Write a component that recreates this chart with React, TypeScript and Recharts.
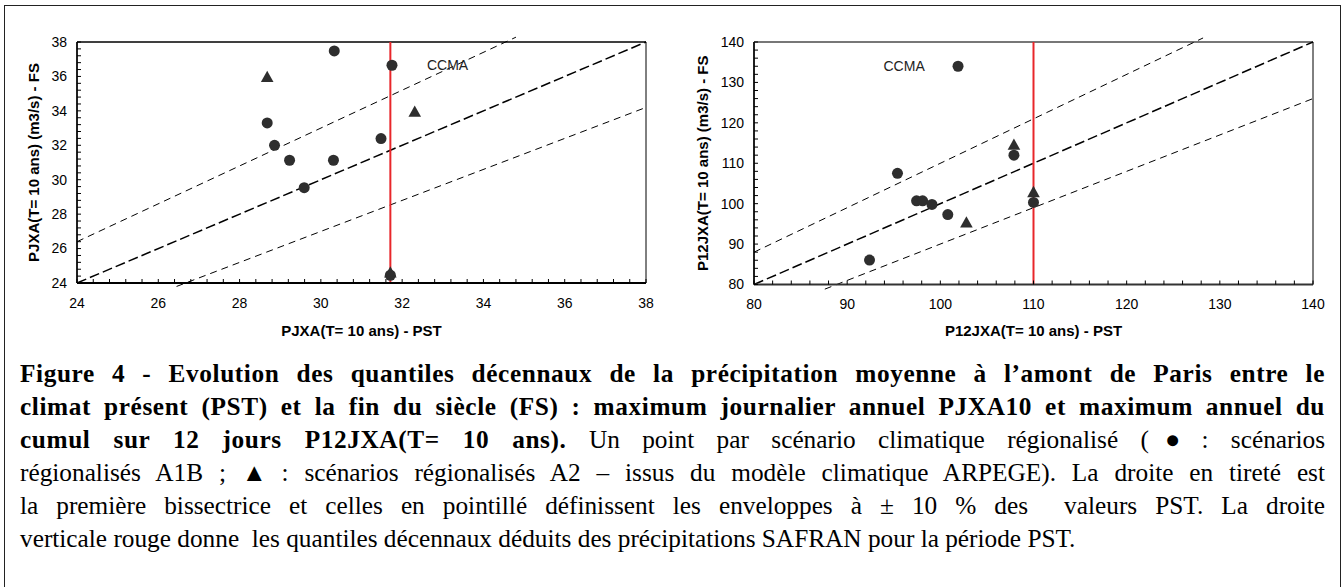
import React from 'react';
import {
  ScatterChart,
  Scatter,
  XAxis,
  YAxis,
  ReferenceLine,
  ReferenceArea,
  ReferenceDot,
  Label,
} from 'recharts';

// ---------- Left chart: PJXA (T = 10 ans) ----------
const leftA1BX = [30.33, 31.75, 28.68, 28.86, 31.48, 29.23, 30.31, 29.59, 31.71];
const leftA1BY = [37.48, 36.65, 33.3, 32.0, 32.39, 31.13, 31.13, 29.54, 24.45];
const leftA2X = [28.68, 32.31, 31.71];
const leftA2Y = [35.95, 33.94, 24.6];
const leftSafranPST = 31.71;
const leftDomain = [24, 38];
const leftMajorTicks = [24, 26, 28, 30, 32, 34, 36, 38];
const leftMinorStep = 0.4;
const leftBisector = [[24, 24], [38, 38]];
const leftUpper = [[24, 26.4], [34.8, 38.28]];
const leftLower = [[26.45, 23.8], [38, 34.2]];
const leftCcma = [32.61, 36.67];

// ---------- Right chart: P12JXA (T = 10 ans) ----------
const rightA1BX = [101.9, 95.4, 107.9, 97.45, 98.1, 99.1, 100.8, 110.0, 92.4];
const rightA1BY = [134.0, 107.5, 112.0, 100.7, 100.7, 99.8, 97.3, 100.3, 86.05];
const rightA2X = [107.9, 102.8, 110.0];
const rightA2Y = [114.5, 95.3, 102.8];
const rightSafranPST = 110.0;
const rightDomain = [80, 140];
const rightMajorTicks = [80, 90, 100, 110, 120, 130, 140];
const rightMinorStep = 2;
const rightBisector = [[80, 80], [140, 140]];
const rightUpper = [[80, 88], [128.2, 141.0]];
const rightLower = [[87.6, 78.85], [140, 126]];
const rightCcma = [93.9, 134];

const leftXLabel = 'PJXA(T= 10 ans) - PST';
const leftYLabel = 'PJXA(T= 10 ans) (m3/s) - FS';
const rightXLabel = 'P12JXA(T= 10 ans) - PST';
const rightYLabel = 'P12JXA(T= 10 ans) (m3/s) - FS';

const SANS = '"Liberation Sans", Arial, sans-serif';
const SERIF = '"Liberation Serif", "Times New Roman", serif';
const MARK = '#2e2e2e';
const RED = '#e8262a';

function minorTicks(domain: number[], step: number): number[] {
  const n = Math.round((domain[1] - domain[0]) / step);
  const out: number[] = [];
  for (let i = 0; i <= n; i++) out.push(Math.round((domain[0] + i * step) * 1000) / 1000);
  return out;
}

function toPoints(xs: number[], ys: number[]) {
  return xs.map((x, i) => ({ x, y: ys[i] }));
}

function seg(s: number[][]) {
  return [
    { x: s[0][0], y: s[0][1] },
    { x: s[1][0], y: s[1][1] },
  ] as any;
}

const isMajor = (v: number, majors: number[]) => majors.some((m) => Math.abs(m - v) < 1e-6);

function XTick(props: any) {
  const { x, y, payload, majors } = props;
  const v = payload.value;
  return (
    <g>
      <line x1={x} x2={x} y1={y} y2={y - 4} stroke="#000" strokeWidth={1} />
      {isMajor(v, majors) && (
        <text x={x} y={y + 20} dy="0.35em" textAnchor="middle" fontSize={14} fontFamily={SANS} fill="#000">
          {v}
        </text>
      )}
    </g>
  );
}

function YTick(props: any) {
  const { x, y, payload, majors } = props;
  const v = payload.value;
  return (
    <g>
      <line x1={x} x2={x + 4} y1={y} y2={y} stroke="#000" strokeWidth={1} />
      {isMajor(v, majors) && (
        <text x={x - 10} y={y} dy="0.35em" textAnchor="end" fontSize={14} fontFamily={SANS} fill="#000">
          {v}
        </text>
      )}
    </g>
  );
}

const Circle = (p: any) => <circle cx={p.cx} cy={p.cy} r={5.5} fill={MARK} />;
const Triangle = (p: any) => (
  <path
    d={`M${p.cx},${p.cy - 6.5}L${p.cx + 6.3},${p.cy + 4.8}L${p.cx - 6.3},${p.cy + 4.8}Z`}
    fill={MARK}
  />
);

type PanelProps = {
  left: number;
  width: number;
  height: number;
  margin: { top: number; right: number; bottom: number; left: number };
  yAxisWidth: number;
  xAxisHeight: number;
  domain: number[];
  majors: number[];
  step: number;
  a1b: { x: number; y: number }[];
  a2: { x: number; y: number }[];
  safran: number;
  bisector: number[][];
  upper: number[][];
  lower: number[][];
  ccma: number[];
  xLabel: string;
  yLabel: string;
  yLabelOffset: number;
  topBorder: string;
  topBorderWidth: number;
  bottomAxisColor: string;
};

function Panel(p: PanelProps) {
  const ticks = minorTicks(p.domain, p.step);
  return (
    <div style={{ position: 'absolute', left: p.left, top: 0 }}>
      <ScatterChart width={p.width} height={p.height} margin={p.margin}>
        <XAxis
          type="number"
          dataKey="x"
          domain={p.domain}
          allowDataOverflow
          ticks={ticks}
          interval={0}
          tickSize={0}
          tickMargin={0}
          tickLine={false}
          height={p.xAxisHeight}
          axisLine={{ stroke: p.bottomAxisColor, strokeWidth: 2 }}
          tick={<XTick majors={p.majors} />}
        >
          <Label
            value={p.xLabel}
            position="insideBottom"
            offset={9}
            fontSize={15}
            fontWeight="bold"
            fontFamily={SANS}
            fill="#000"
          />
        </XAxis>
        <YAxis
          type="number"
          dataKey="y"
          domain={p.domain}
          allowDataOverflow
          ticks={ticks}
          interval={0}
          tickSize={0}
          tickMargin={0}
          tickLine={false}
          width={p.yAxisWidth}
          axisLine={{ stroke: '#000', strokeWidth: 1.5 }}
          tick={<YTick majors={p.majors} />}
        >
          <Label
            value={p.yLabel}
            position="insideLeft"
            angle={-90}
            offset={p.yLabelOffset}
            fontSize={15}
            fontWeight="bold"
            fontFamily={SANS}
            fill="#000"
            style={{ textAnchor: 'middle' }}
          />
        </YAxis>
        <ReferenceArea
          x1={p.domain[0]}
          x2={p.domain[1]}
          y1={p.domain[0]}
          y2={p.domain[1]}
          fill="none"
          fillOpacity={0}
          stroke="#000"
          strokeWidth={1}
        />
        <ReferenceLine y={p.domain[1]} stroke={p.topBorder} strokeWidth={p.topBorderWidth} />
        <ReferenceLine
          segment={seg(p.upper)}
          ifOverflow="visible"
          stroke="#000"
          strokeWidth={1}
          strokeDasharray="7 5"
        />
        <ReferenceLine
          segment={seg(p.lower)}
          ifOverflow="visible"
          stroke="#000"
          strokeWidth={1}
          strokeDasharray="7 5"
        />
        <ReferenceLine
          segment={seg(p.bisector)}
          ifOverflow="visible"
          stroke="#000"
          strokeWidth={1.5}
          strokeDasharray="10 4"
        />
        <ReferenceLine x={p.safran} stroke={RED} strokeWidth={2} />
        <ReferenceDot
          x={p.ccma[0]}
          y={p.ccma[1]}
          r={0}
          fill="none"
          stroke="none"
          label={{ value: 'CCMA', position: 'right', offset: 0, fontSize: 14, fontFamily: SANS, fill: '#222' }}
        />
        <Scatter data={p.a2} shape={Triangle} isAnimationActive={false} />
        <Scatter data={p.a1b} shape={Circle} isAnimationActive={false} />
      </ScatterChart>
    </div>
  );
}

const captionLines = [
  {
    bold: 'Figure 4 - Evolution des quantiles décennaux de la précipitation moyenne à l’amont de Paris entre le',
    normal: '',
  },
  {
    bold: 'climat présent (PST) et la fin du siècle (FS) : maximum journalier annuel PJXA10 et maximum annuel du',
    normal: '',
  },
  {
    bold: 'cumul sur 12 jours P12JXA(T= 10 ans).',
    normal: ' Un point par scénario climatique régionalisé (●\u202F: scénarios',
  },
  {
    bold: '',
    normal: 'régionalisés A1B ; ▲\u202F: scénarios régionalisés A2 – issus du modèle climatique ARPEGE). La droite en tireté est',
  },
  {
    bold: '',
    normal: 'la première bissectrice et celles en pointillé définissent les enveloppes à ± 10 % des\u00a0 valeurs PST. La droite',
  },
  {
    bold: '',
    normal: 'verticale rouge donne\u00a0 les quantiles décennaux déduits des précipitations SAFRAN pour la période PST.',
  },
];

export default function App() {
  return (
    <div
      style={{
        position: 'absolute',
        left: 0,
        top: 0,
        width: 1343,
        height: 587,
        overflow: 'hidden',
        background: '#fff',
      }}
    >
      <div
        style={{
          position: 'absolute',
          left: 4,
          top: 5,
          width: 1335,
          height: 620,
          border: '1px solid #222',
        }}
      />
      <Panel
        left={0}
        width={680}
        height={345}
        margin={{ top: 42, right: 34, bottom: 0, left: 0 }}
        yAxisWidth={77}
        xAxisHeight={62}
        domain={leftDomain}
        majors={leftMajorTicks}
        step={leftMinorStep}
        a1b={toPoints(leftA1BX, leftA1BY)}
        a2={toPoints(leftA2X, leftA2Y)}
        safran={leftSafranPST}
        bisector={leftBisector}
        upper={leftUpper}
        lower={leftLower}
        ccma={leftCcma}
        xLabel={leftXLabel}
        yLabel={leftYLabel}
        yLabelOffset={34}
        topBorder="#000"
        topBorderWidth={1}
        bottomAxisColor="#000"
      />
      <Panel
        left={680}
        width={663}
        height={345}
        margin={{ top: 42, right: 30, bottom: 0, left: 0 }}
        yAxisWidth={74}
        xAxisHeight={60.5}
        domain={rightDomain}
        majors={rightMajorTicks}
        step={rightMinorStep}
        a1b={toPoints(rightA1BX, rightA1BY)}
        a2={toPoints(rightA2X, rightA2Y)}
        safran={rightSafranPST}
        bisector={rightBisector}
        upper={rightUpper}
        lower={rightLower}
        ccma={rightCcma}
        xLabel={rightXLabel}
        yLabel={rightYLabel}
        yLabelOffset={23}
        topBorder="#777"
        topBorderWidth={2}
        bottomAxisColor="#333"
      />
      <div
        style={{
          position: 'absolute',
          left: 20,
          top: 357,
          width: 1305,
          fontFamily: SERIF,
          fontSize: 25.3,
          lineHeight: '33px',
          color: '#000',
        }}
      >
        {captionLines.map((l, i) => (
          <div
            key={i}
            style={{
              textAlign: i === captionLines.length - 1 ? 'left' : 'justify',
              textAlignLast: i === captionLines.length - 1 ? 'left' : 'justify',
              whiteSpace: 'nowrap',
            }}
          >
            {l.bold && <b style={{ letterSpacing: '0.6px' }}>{l.bold}</b>}
            {l.normal}
          </div>
        ))}
      </div>
    </div>
  );
}
